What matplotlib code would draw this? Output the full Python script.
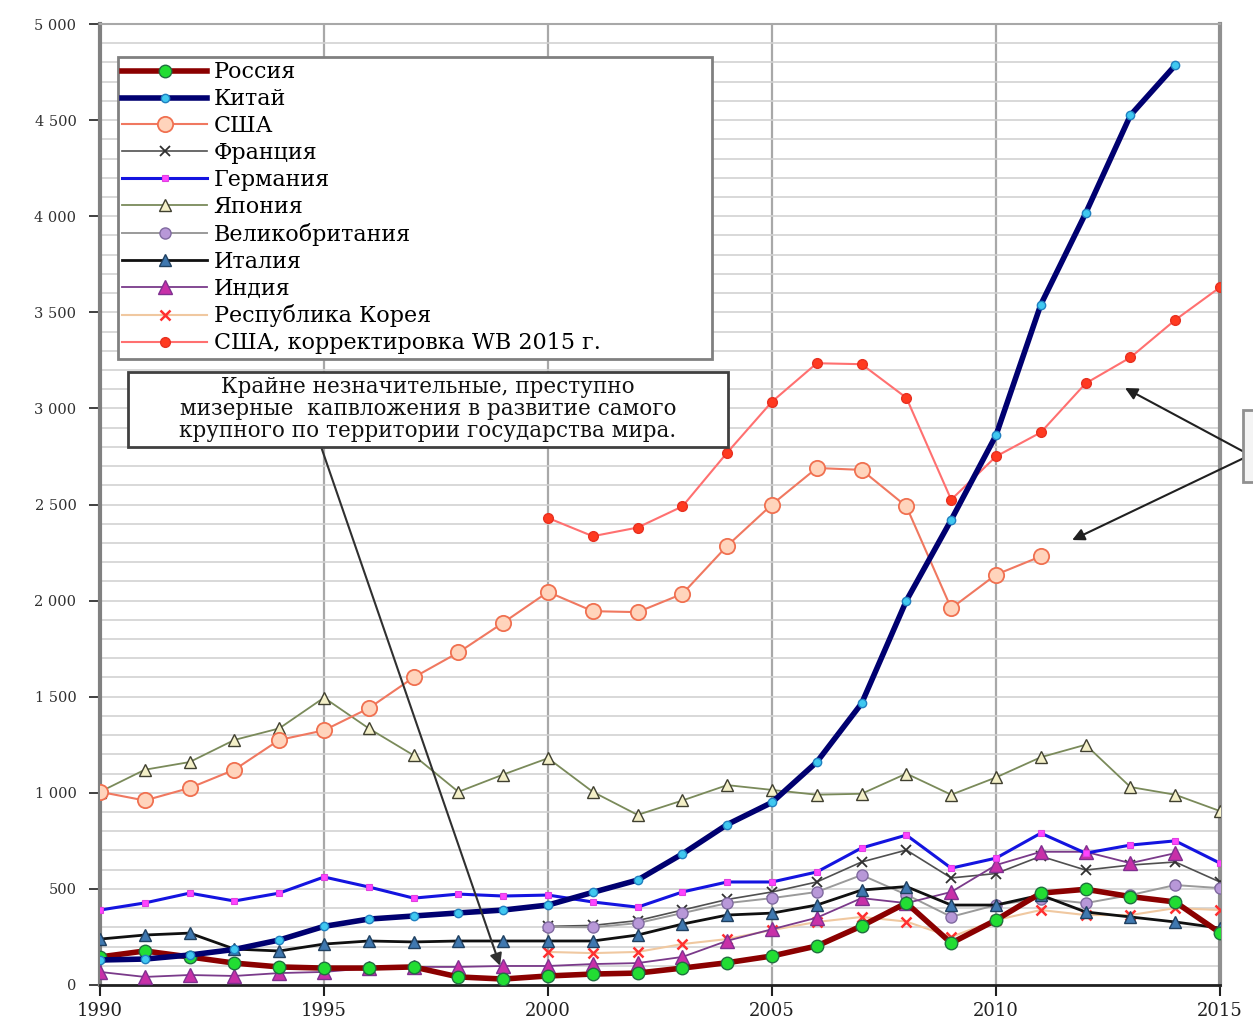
import numpy as np
import matplotlib
matplotlib.use("Agg")
import matplotlib.pyplot as plt
from matplotlib.patches import Rectangle
from matplotlib.ticker import FuncFormatter, MultipleLocator

nan = np.nan
years = list(range(1990, 2016))

russia = [146, 177, 146, 114, 94, 88, 88, 94, 42, 31, 47, 57, 62, 88, 116, 151, 203, 307, 427, 218, 338, 478, 498, 460, 432, 272]
china = [130, 135, 156, 185, 234, 305, 343, 359, 375, 390, 416, 482, 546, 682, 835, 950, 1160, 1465, 2000, 2420, 2860, 3540, 4015, 4525, 4785, nan]
usa = [1005, 960, 1025, 1120, 1275, 1325, 1440, 1600, 1730, 1885, 2045, 1945, 1940, 2035, 2285, 2500, 2690, 2680, 2490, 1960, 2135, 2230, nan, nan, nan, nan]
france = [nan]*10 + [305, 310, 335, 390, 445, 484, 536, 640, 702, 557, 580, 670, 598, 624, 640, 536]
germany = [390, 427, 478, 437, 478, 562, 510, 452, 473, 463, 468, 432, 405, 484, 536, 536, 588, 713, 780, 608, 660, 790, 686, 728, 750, 634]
japan = [1005, 1120, 1160, 1275, 1335, 1495, 1335, 1195, 1005, 1095, 1180, 1005, 885, 960, 1040, 1015, 990, 995, 1100, 990, 1080, 1185, 1250, 1030, 990, 905]
uk = [nan]*10 + [302, 300, 322, 374, 426, 452, 484, 572, 470, 355, 416, 450, 426, 468, 520, 504]
italy = [239, 260, 270, 187, 177, 213, 229, 224, 229, 229, 229, 229, 260, 317, 364, 374, 416, 494, 512, 416, 416, 468, 380, 354, 328, 296]
india = [68, 42, 52, 47, 62, 68, 88, 94, 94, 99, 99, 109, 114, 146, 230, 290, 350, 452, 426, 484, 624, 693, 693, 634, 686, nan]
korea = [nan]*10 + [172, 166, 172, 213, 239, 286, 328, 354, 330, 250, 338, 390, 364, 364, 400, 390]
usa_wb = [nan]*10 + [2430, 2335, 2380, 2490, 2770, 3035, 3235, 3230, 3055, 2525, 2750, 2875, 3130, 3265, 3460, 3630]

labels = ["Россия", "Китай", "США", "Франция", "Германия", "Япония",
          "Великобритания", "Италия", "Индия", "Республика Корея",
          "США, корректировка WB 2015 г."]

note_text = ("Крайне незначительные, преступно\n"
             "мизерные  капвложения в развитие самого\n"
             "крупного по территории государства мира.")

W, H = 1253, 1019
fig = plt.figure(figsize=(W/100, H/100), dpi=100)
ax = fig.add_axes([100/W, 1-985/H, 1120/W, 961/H])

serif = ["DejaVu Serif"]

styles = [
    dict(data=russia, color="#8B0000", lw=4.0, marker="o", ms=9, mfc="#22DD33", mec="#207040", mew=1.0, z=6),
    dict(data=china, color="#000070", lw=4.0, marker="o", ms=6, mfc="#40C8F0", mec="#2080C0", mew=1.0, z=7),
    dict(data=usa, color="#F07860", lw=1.5, marker="o", ms=11, mfc="#FFD4BC", mec="#F07050", mew=1.3, z=4),
    dict(data=france, color="#505050", lw=1.2, marker="x", ms=7, mfc="#303030", mec="#303030", mew=1.3, z=3),
    dict(data=germany, color="#1414E0", lw=2.2, marker="s", ms=4.5, mfc="#FF44FF", mec="#E040E0", mew=0.8, z=5),
    dict(data=japan, color="#7A8A5A", lw=1.3, marker="^", ms=8, mfc="#F4F0C8", mec="#404030", mew=1.0, z=3),
    dict(data=uk, color="#9A9A9A", lw=1.4, marker="o", ms=8, mfc="#B898D8", mec="#806AA0", mew=1.0, z=3),
    dict(data=italy, color="#101010", lw=2.0, marker="^", ms=8, mfc="#3F78B0", mec="#204060", mew=1.0, z=5),
    dict(data=india, color="#7A3A8A", lw=1.3, marker="^", ms=10, mfc="#C830A8", mec="#803090", mew=1.0, z=4),
    dict(data=korea, color="#F0C8A0", lw=1.5, marker="x", ms=7, mfc="#FF3030", mec="#FF3030", mew=1.8, z=3),
    dict(data=usa_wb, color="#FF7070", lw=1.5, marker="o", ms=7, mfc="#FF3A20", mec="#E83020", mew=1.0, z=4),
]

handles = []
for s, lab in zip(styles, labels):
    h, = ax.plot(years, s["data"], color=s["color"], lw=s["lw"], marker=s["marker"],
                 ms=s["ms"], mfc=s["mfc"], mec=s["mec"], mew=s["mew"], zorder=s["z"],
                 label=lab)
    handles.append(h)

ax.set_xlim(1990, 2015)
ax.set_ylim(0, 5000)
ax.yaxis.set_major_locator(MultipleLocator(500))
ax.yaxis.set_minor_locator(MultipleLocator(100))
ax.set_xticks([1990, 1995, 2000, 2005, 2010, 2015])
ax.yaxis.set_major_formatter(FuncFormatter(lambda v, p: f"{int(v):,}".replace(",", " ")))

ax.grid(True, which="both", axis="y", color="#D2D2D2", lw=1.2, zorder=0)
for xv in [1995, 2000, 2005, 2010]:
    ax.axvline(xv, color="#A8A8A8", lw=1.6, zorder=0)
ax.set_axisbelow(True)

for side, c, w in [("left", "#808080", 3.0), ("right", "#909090", 3.0),
                   ("top", "#A8A8A8", 1.5), ("bottom", "#202020", 2.0)]:
    ax.spines[side].set_color(c)
    ax.spines[side].set_linewidth(w)

ax.tick_params(axis="y", which="major", length=8, width=1.2, color="#202020",
               labelsize=10.5, labelcolor="#303030", pad=9)
ax.tick_params(axis="y", which="minor", length=0)
ax.tick_params(axis="x", length=8, width=1.5, color="#202020",
               labelsize=13, labelcolor="#202020", pad=4)
for lab in ax.get_xticklabels() + ax.get_yticklabels():
    lab.set_family(serif)

leg = ax.legend(handles=handles, loc="upper left",
                bbox_to_anchor=(18/1120, (985-358)/961, 594/1120, 301/961),
                mode="expand", borderaxespad=0, fancybox=False,
                prop=dict(family=serif, size=16), labelspacing=0.22,
                handlelength=3.8, handletextpad=0.3, borderpad=0.2,
                framealpha=1.0, edgecolor="#808080", frameon=True)
leg.get_frame().set_linewidth(2.0)
leg.set_zorder(20)

# annotation box
ax.add_patch(Rectangle((28/1120, (985-447)/961), 600/1120, 75/961,
                       transform=ax.transAxes, facecolor="white",
                       edgecolor="#404040", lw=2.0, zorder=21))
ax.text((28+300)/1120, (985-409.5)/961, note_text, transform=ax.transAxes,
        ha="center", va="center", family=serif, size=15.5, color="#101010",
        linespacing=1.0, zorder=22)
ax.annotate("", xy=(1998.93, 100), xytext=(1994.95, 2790),
            arrowprops=dict(arrowstyle="-|>", color="#303030", lw=1.5,
                            mutation_scale=18, shrinkA=0, shrinkB=0),
            zorder=19)

# right side pointer box and arrows
fig.patches.append(Rectangle((1243/W, 1-482/H), 20/W, 72/H, transform=fig.transFigure,
                             facecolor="#F4F4F4", edgecolor="#909090", lw=2.0))
for tx, ty in [(2012.88, 3106), (2011.7, 2315)]:
    ax.annotate("", xy=(tx, ty), xytext=(2015.67, 2757),
                arrowprops=dict(arrowstyle="-|>", color="#202020", lw=1.5,
                                mutation_scale=18, shrinkA=0, shrinkB=0),
                annotation_clip=False, zorder=19)

fig.savefig("out.png", dpi=100)
